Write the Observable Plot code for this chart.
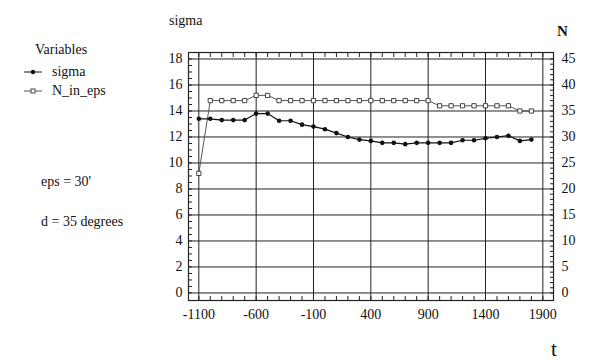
<!DOCTYPE html>
<html><head><meta charset="utf-8">
<script src="https://cdn.jsdelivr.net/npm/d3@7"></script>
<script src="https://cdn.jsdelivr.net/npm/@observablehq/plot@0.6"></script>
<style>
body{margin:0;background:#fff;}
#chart{position:relative;width:593px;height:360px;}
#chart svg, #chart svg text{font-family:"Liberation Serif","Times New Roman","DejaVu Serif",serif !important;}
</style></head>
<body><div id="chart"></div>
<script>
// Data
const years = [-1100,-1000,-900,-800,-700,-600,-500,-400,-300,-200,-100,0,100,200,300,400,500,600,700,800,900,1000,1100,1200,1300,1400,1500,1600,1700,1800];
const sigma = [13.4,13.4,13.3,13.3,13.3,13.8,13.8,13.25,13.25,12.95,12.8,12.6,12.3,12.0,11.8,11.7,11.55,11.55,11.45,11.55,11.55,11.55,11.55,11.75,11.75,11.9,12.0,12.1,11.7,11.8];
const nInEps = [23,37,37,37,37,38,38,37,37,37,37,37,37,37,37,37,37,37,37,37,37,36,36,36,36,36,36,36,35,35];
const xTicks = [-1100,-600,-100,400,900,1400,1900];
const yTicks = [0,2,4,6,8,10,12,14,16,18];
const nTicks = [0,5,10,15,20,25,30,35,40,45];
const nScale = 2.5; // N = 2.5 * sigma-axis units

const rows = years.map((t,i)=>({t, sigma:sigma[i], N:nInEps[i]}));
const minorX = d3.range(-1100,1901,100);
const minorY = d3.range(0,18.01,0.5);
const minorN = d3.range(0,46,1).map(n=>n/nScale);

const serif = '"Liberation Serif","Times New Roman",serif';
const font = {fontSize:14, fontFamily:serif};
const plot = Plot.plot({
  width:593, height:360,
  marginLeft:188, marginRight:40, marginTop:52, marginBottom:60,
  style:{fontFamily:serif, fontSize:"14px", color:"#111", background:"#fff"},
  x:{domain:[-1190,1993]},
  y:{domain:[-0.58,18.5]},
  marks:[
    Plot.gridX(xTicks,{stroke:"#222",strokeOpacity:1,strokeWidth:1}),
    Plot.gridY(yTicks,{stroke:"#222",strokeOpacity:1,strokeWidth:1}),
    Plot.frame({stroke:"#222",strokeWidth:1.2}),
    // minor inward ticks
    Plot.axisX(minorX,{anchor:"bottom",tickSize:-4,tickFormat:()=>"",label:null,stroke:"#222"}),
    Plot.axisX(minorX,{anchor:"top",tickSize:-4,tickFormat:()=>"",label:null,stroke:"#222"}),
    Plot.axisY(minorY,{anchor:"left",tickSize:-4,tickFormat:()=>"",label:null,stroke:"#222"}),
    Plot.axisY(minorN,{anchor:"right",tickSize:-4,tickFormat:()=>"",label:null,stroke:"#222"}),
    // labels
    Plot.axisX(xTicks,{anchor:"bottom",tickSize:0,tickPadding:9,label:null,tickFormat:d=>String(d),...font,fill:"#111"}),
    Plot.axisY(yTicks,{anchor:"left",tickSize:0,tickPadding:6,label:null,...font,fill:"#111"}),
    Plot.axisY(nTicks.map(n=>n/nScale),{anchor:"right",tickSize:0,tickPadding:8,label:null,tickFormat:d=>String(Math.round(d*nScale)),...font,fill:"#111"}),
    // series
    Plot.line(rows,{x:"t",y:d=>d.N/nScale,stroke:"#555",strokeWidth:1}),
    Plot.dot(rows,{x:"t",y:d=>d.N/nScale,symbol:"square",r:2.4,fill:"#fff",stroke:"#444",strokeWidth:1}),
    Plot.line(rows,{x:"t",y:"sigma",stroke:"#111",strokeWidth:1.2}),
    Plot.dot(rows,{x:"t",y:"sigma",r:2.3,fill:"#111",stroke:"none"})
  ]
});
document.getElementById("chart").appendChild(plot);

// Annotations and legend
const svg = d3.select(plot);
const txt = (x,y,s,size=14,extra={})=>{
  const t = svg.append("text").attr("x",x).attr("y",y).attr("text-anchor","start")
    .style("font-size",size+"px").attr("fill","#111").text(s);
  for (const k in extra) t.attr(k,extra[k]);
  return t;
};
txt(169,25,"sigma");
txt(557,36,"N",15,{"font-weight":"bold"});
txt(551,356,"t",21);
txt(35,54,"Variables");
txt(52,76,"sigma");
txt(52,95,"N_in_eps");
txt(41,186,"eps = 30'");
txt(41,226,"d = 35 degrees");
svg.append("line").attr("x1",24).attr("x2",42).attr("y1",72).attr("y2",72).attr("stroke","#111");
svg.append("circle").attr("cx",33).attr("cy",72).attr("r",2.2).attr("fill","#111");
svg.append("line").attr("x1",24).attr("x2",42).attr("y1",91).attr("y2",91).attr("stroke","#555");
svg.append("rect").attr("x",31).attr("y",89).attr("width",4).attr("height",4).attr("fill","#fff").attr("stroke","#444");
</script></body></html>
